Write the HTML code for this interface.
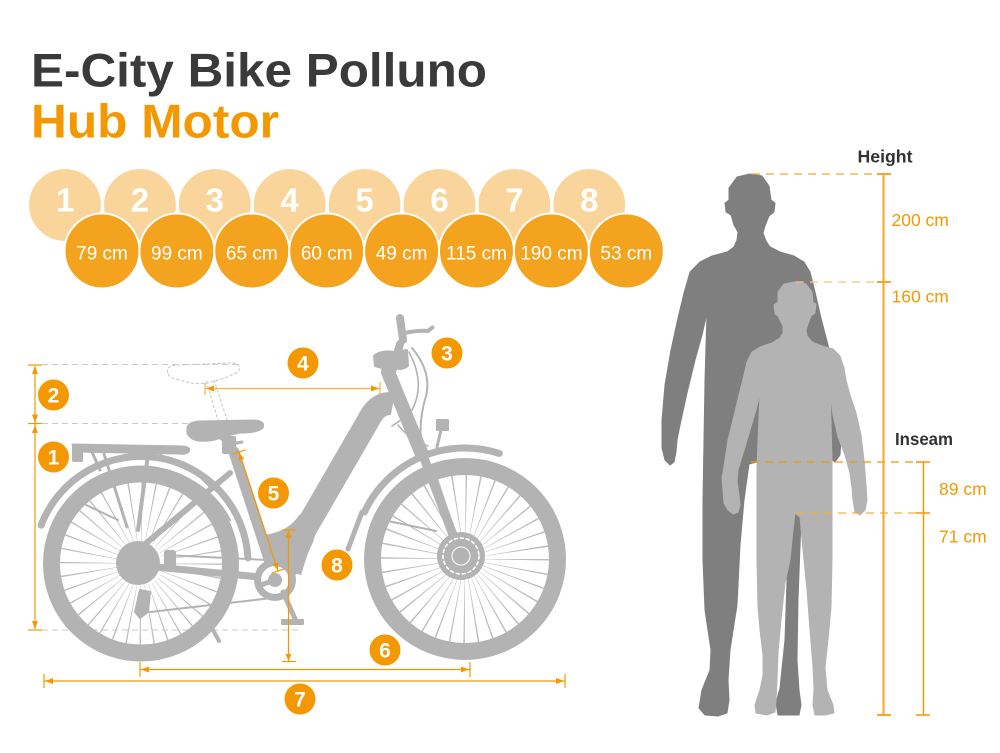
<!DOCTYPE html>
<html><head><meta charset="utf-8"><style>
html,body{margin:0;padding:0;background:#fff;}
svg{display:block;}
text{font-family:"Liberation Sans",Arial,sans-serif;}
</style></head><body>
<svg width="1000" height="753" viewBox="0 0 1000 753" xmlns="http://www.w3.org/2000/svg">
<rect width="1000" height="753" fill="#fff"/>
<!-- Title -->
<text x="31" y="86.7" font-size="47.5" font-weight="bold" fill="#3a3a3a" textLength="456" lengthAdjust="spacingAndGlyphs">E-City Bike Polluno</text>
<text x="31" y="137.3" font-size="47.5" font-weight="bold" fill="#f39800" textLength="248" lengthAdjust="spacingAndGlyphs">Hub Motor</text>

<!-- light circles -->
<g fill="#f9d59b" stroke="#fff" stroke-width="1.2">
<circle cx="65" cy="205" r="36.5"/><circle cx="139.9" cy="205" r="36.5"/><circle cx="214.8" cy="205" r="36.5"/><circle cx="289.7" cy="205" r="36.5"/><circle cx="364.6" cy="205" r="36.5"/><circle cx="439.5" cy="205" r="36.5"/><circle cx="514.4" cy="205" r="36.5"/><circle cx="589.3" cy="205" r="36.5"/>
</g>
<g fill="#fff" font-size="33" font-weight="bold" text-anchor="middle">
<text x="65" y="211.5">1</text><text x="139.9" y="211.5">2</text><text x="214.8" y="211.5">3</text><text x="289.7" y="211.5">4</text><text x="364.6" y="211.5">5</text><text x="439.5" y="211.5">6</text><text x="514.4" y="211.5">7</text><text x="589.3" y="211.5">8</text>
</g>
<!-- dark circles -->
<g fill="#f3a31d" stroke="#fff" stroke-width="2">
<circle cx="102" cy="251" r="37.5"/><circle cx="176.9" cy="251" r="37.5"/><circle cx="251.8" cy="251" r="37.5"/><circle cx="326.7" cy="251" r="37.5"/><circle cx="401.6" cy="251" r="37.5"/><circle cx="476.5" cy="251" r="37.5"/><circle cx="551.4" cy="251" r="37.5"/><circle cx="626.3" cy="251" r="37.5"/>
</g>
<g fill="#fff" font-size="19" text-anchor="middle">
<text x="102" y="259.5">79 cm</text><text x="176.9" y="259.5">99 cm</text><text x="251.8" y="259.5">65 cm</text><text x="326.7" y="259.5">60 cm</text><text x="401.6" y="259.5">49 cm</text><text x="476.5" y="259.5">115 cm</text><text x="551.4" y="259.5">190 cm</text><text x="626.3" y="259.5">53 cm</text>
</g>

<!-- ===== BIKE ===== -->
<g id="bike">
<g stroke="#c9c9c9" stroke-width="1" stroke-dasharray="6 4" fill="none">
<line x1="42" y1="364.5" x2="238" y2="364.5"/>
<line x1="42" y1="423.5" x2="222" y2="423.5"/>
<line x1="42" y1="630" x2="300" y2="630"/>
</g>
<g stroke="#c4c4c4" stroke-width="1" stroke-dasharray="3 2" fill="none">
<path d="M168 373 Q165 365 180 365 L232 363 Q243 364 238 372 Q226 378 212 382 Q196 386 180 380 Q168 378 168 373 Z"/>
<line x1="206" y1="381" x2="219" y2="423"/>
<line x1="214" y1="380" x2="228" y2="423"/>
</g>

<g fill="none" stroke="#b3b3b3">
<circle cx="141" cy="563.5" r="89.5" stroke-width="17"/>
<circle cx="465" cy="559" r="92.5" stroke-width="17"/>
</g>
<circle cx="141" cy="563.5" r="51.5" fill="none" stroke="#bcbcbc" stroke-width="59" stroke-dasharray="0.9 8.088"/>
<circle cx="465" cy="559" r="47" fill="none" stroke="#bcbcbc" stroke-width="74" stroke-dasharray="0.85 7.353"/>

<g fill="#b3b3b3" stroke="#b3b3b3" stroke-linecap="round" stroke-linejoin="round">
<circle cx="138" cy="563" r="22" stroke="none"/>
<path d="M41.1 525.2 A107 107 0 0 1 247.9 557.9" fill="none" stroke-width="7"/>
<path d="M60 520 A96 96 0 0 1 230 520" fill="none" stroke-width="2"/>
<path d="M72 444 L183 446 Q192 447 189 452 Q186 455 178 454 L74 452 Z" stroke-width="1"/>
<rect x="72" y="446" width="11" height="16" rx="2" stroke="none"/>
<line x1="92" y1="452" x2="100" y2="470" stroke-width="3"/>
<line x1="104" y1="454" x2="127" y2="527" stroke-width="3"/>
<line x1="148" y1="455" x2="138" y2="530" stroke-width="4"/>
<line x1="160" y1="455" x2="197" y2="470" stroke-width="2.5"/>
<line x1="118" y1="520" x2="86" y2="505" stroke-width="2"/>
<line x1="230" y1="473" x2="144" y2="545" stroke-width="6"/>
<line x1="210" y1="487" x2="198" y2="475" stroke-width="2"/>
<line x1="145" y1="566" x2="270" y2="578" stroke-width="7"/>
<line x1="165" y1="555" x2="268" y2="560" stroke-width="2"/>
<line x1="150" y1="612" x2="272" y2="598" stroke-width="2"/>
<rect x="164" y="550" width="12" height="20" rx="3" stroke="none"/>
<path d="M140 590 L150 592 L148 612 L140 618 L135 612 Z" stroke-width="2"/>
<line x1="212" y1="628" x2="219" y2="641" stroke-width="4"/>
<line x1="234" y1="452" x2="274" y2="574" stroke-width="11"/>
<rect x="222" y="436" width="14" height="18" rx="2" stroke="none"/>
<path d="M187 430 Q186 422 199 421 L255 420 Q266 421 263 428 Q258 433 240 433 Q226 436 215 440 Q200 443 192 439 Q186 435 187 430 Z" stroke-width="1"/>
<path d="M218 436 Q228 446 242 442" fill="none" stroke-width="3"/>
<path d="M393 404 Q378 401 368 421 L306 528 Q297 547 290 572" fill="none" stroke-width="23" stroke-linecap="butt"/>
<path d="M262 535 Q288 533 300 514 L314 540 L302 566 L287 586 L266 580 Z" stroke="none"/>
<circle cx="275" cy="580" r="21" stroke="none"/>
<circle cx="275" cy="580" r="14" fill="#fff" stroke="none"/>
<circle cx="275" cy="580" r="7" stroke="none"/>
<line x1="275" y1="580" x2="258" y2="586" stroke-width="5"/>
<line x1="283" y1="592" x2="296" y2="621" stroke-width="5"/>
<rect x="281" y="619" width="23" height="6" rx="1" stroke="none"/>
<line x1="388" y1="372" x2="421" y2="452" stroke-width="14"/>
<line x1="421" y1="450" x2="461" y2="556" stroke-width="9"/>
<line x1="392" y1="372" x2="400" y2="344" stroke-width="8"/>
<line x1="400" y1="318" x2="403" y2="340" stroke-width="8"/>
<path d="M404 333 Q420 330 428 331 Q434 326 432 328" fill="none" stroke-width="4"/>
<path d="M374 356 Q380 350 395 352 L407 350 L408 366 Q400 372 394 366 Q384 370 375 366 Z" stroke-width="2"/>
<path d="M412 348 Q432 372 426 396 Q419 418 421 442" fill="none" stroke-width="2"/>
<path d="M409 352 Q426 384 412 410 Q402 420 392 426" fill="none" stroke-width="1.6"/>
<path d="M398 425 Q410 440 428 446" fill="none" stroke-width="1.6"/>
<rect x="436" y="419" width="13" height="12" rx="1" stroke="none"/>
<line x1="441" y1="430" x2="437" y2="447" stroke-width="3"/>
<path d="M364.4 512.1 A111 111 0 0 1 499.3 453.4" fill="none" stroke-width="7"/>
<path d="M362 512 L348 549" fill="none" stroke-width="5"/>
<line x1="388" y1="521" x2="436" y2="531" stroke-width="2"/>
<circle cx="461" cy="556" r="24" stroke="none"/>
<circle cx="461" cy="556" r="18" fill="none" stroke="#fff" stroke-width="1.6" stroke-dasharray="3 3"/>
<circle cx="461" cy="556" r="9" fill="#b3b3b3" stroke="#fff" stroke-width="1"/>
</g>

<g stroke="#f39800" stroke-width="1.2" fill="none">
<line x1="35" y1="366" x2="35" y2="629"/>
<line x1="28" y1="365" x2="42" y2="365"/>
<line x1="28" y1="423.5" x2="42" y2="423.5"/>
<line x1="28" y1="630" x2="42" y2="630"/>
<line x1="278" y1="571" x2="239" y2="452"/>
<line x1="232.4" y1="454.2" x2="245.7" y2="449.8"/>
<line x1="271.4" y1="573.2" x2="284.7" y2="568.8"/>
<line x1="288.5" y1="530" x2="288.5" y2="661.5"/>
<line x1="282" y1="530" x2="296" y2="530"/>
<line x1="282" y1="661.5" x2="296" y2="661.5"/>
<line x1="140" y1="669.5" x2="470" y2="669.5"/>
<line x1="140" y1="662" x2="140" y2="677"/>
<line x1="470" y1="662" x2="470" y2="677"/>
<line x1="44" y1="681" x2="565" y2="681"/>
<line x1="44" y1="674" x2="44" y2="688"/>
<line x1="565" y1="674" x2="565" y2="688"/>
</g>
<g stroke="#f6b24e" stroke-width="1.2" fill="none">
<line x1="205" y1="388.5" x2="380" y2="388.5"/>
<line x1="205" y1="383" x2="205" y2="395"/>
<line x1="380" y1="382" x2="380" y2="395"/>
</g>
<g fill="#f39800">
<polygon points="35,366 32,374 38,374"/>
<polygon points="35,422.5 32,414.5 38,414.5"/>
<polygon points="35,425 32,433 38,433"/>
<polygon points="35,629 32,621 38,621"/>
<polygon points="239.3,453 244.3,458.8 238.6,460.6"/>
<polygon points="277.7,570 278.4,562.4 272.7,564.2"/>
<polygon points="288.5,531 285.5,538 291.5,538"/>
<polygon points="288.5,661 285.5,654 291.5,654"/>
<polygon points="141,669.5 149,666.5 149,672.5"/>
<polygon points="469,669.5 461,666.5 461,672.5"/>
<polygon points="45,681 53,678 53,684"/>
<polygon points="564,681 556,678 556,684"/>
<polygon points="206,388.5 214,385.5 214,391.5"/>
<polygon points="379,388.5 371,385.5 371,391.5"/>
</g>
<g fill="#f39800">
<circle cx="53.5" cy="395" r="15.5"/><circle cx="53.5" cy="457" r="15.5"/><circle cx="303" cy="363" r="15.5"/><circle cx="447" cy="353" r="15.5"/><circle cx="273.5" cy="493" r="15.5"/><circle cx="337" cy="565" r="15.5"/><circle cx="385" cy="650" r="15.5"/><circle cx="300" cy="699" r="15.5"/>
</g>
<g fill="#fff" font-size="21" font-weight="bold" text-anchor="middle">
<text x="53.5" y="402.5">2</text><text x="53.5" y="464.5">1</text><text x="303" y="370.5">4</text><text x="447" y="360.5">3</text><text x="273.5" y="500.5">5</text><text x="337" y="572.5">8</text><text x="385" y="657.5">6</text><text x="300" y="706.5">7</text>
</g>
</g>

<!-- ===== HUMANS ===== -->
<path fill="#7f7f7f" stroke="#7f7f7f" stroke-width="1" stroke-linejoin="round" d="M750 174 L762 176 L769 186 L771 200 L775 203 L774 212 L769 216 L765 226 L763 233 L766 241 L770 247 L780 252 L794 256 L804 262 L810 272 L815 292 L821 318 L828 345 L834 375 L838 410 L841 440 L840 455 L835 462 L830 458 L826 445 L815 450 L805 470 L801 520 L798 600 L797 660 L799 690 L801 705 L799 715 L778 715 L776 703 L780 688 L785 640 L787 580 L785 513 L757 462 L749 464 L744 500 L740 545 L737 605 L730 650 L728 680 L729 700 L727 713 L718 716 L705 715 L699 708 L702 690 L710 670 L711 650 L705 610 L703 560 L703 500 L704 440 L705 380 L707 313 L702 335 L695 360 L687 393 L680 425 L677 440 L676 452 L674 462 L670 465 L665 460 L662 448 L662 420 L665 385 L671 350 L678 318 L684 293 L690 272 L700 262 L712 256 L727 252 L734 247 L737 240 L738 232 L734 225 L731 215 L726 212 L725 203 L729 200 L729 188 L737 177 Z"/>
<path fill="#b3b3b3" stroke="#b3b3b3" stroke-width="1" stroke-linejoin="round" d="M795 282 L806 284 L812 292 L813 302 L816 304 L815 313 L811 316 L808 324 L806 330 L807 336 L812 342 L822 346 L833 349 L840 356 L844 368 L846 380 L850 395 L856 413 L861 435 L864 460 L866 485 L867 500 L865 510 L860 515 L855 512 L853 500 L852 488 L850 473 L845 455 L838 437 L833 415 L830 393 L831 420 L832 460 L832 507 L832 560 L831 607 L828 640 L825 667 L827 690 L833 705 L834 713 L825 715 L815 715 L813 705 L814 690 L813 667 L810 630 L807 590 L803 550 L800 517 L795 513 L793 530 L790 560 L785 583 L781 620 L778 653 L777 680 L776 700 L775 712 L767 715 L756 713 L755 705 L760 690 L763 675 L763 655 L760 630 L758 607 L757 560 L757 507 L757 470 L758 440 L760 393 L756 410 L750 430 L745 447 L738 470 L737 482 L739 495 L740 505 L738 512 L733 514 L728 510 L724 503 L723 490 L722 478 L725 460 L728 440 L733 420 L739 395 L744 375 L747 362 L752 352 L760 347 L772 343 L780 338 L783 333 L783 326 L780 320 L778 316 L775 314 L774 305 L778 302 L778 292 L784 284 Z"/>

<!-- height scale -->
<g fill="none" stroke-width="1.3" stroke-dasharray="8 6">
<line x1="752" y1="174" x2="877" y2="174" stroke="#f5a623"/>
<line x1="796" y1="282" x2="877" y2="282" stroke="#f9c27a"/>
<line x1="751" y1="462" x2="916" y2="462" stroke="#f39800"/>
<line x1="796" y1="513" x2="916" y2="513" stroke="#f6ad3e"/>
</g>
<g stroke="#f5a623" stroke-width="2" fill="none">
<line x1="883.5" y1="174" x2="883.5" y2="715"/>
<line x1="877" y1="174" x2="891" y2="174"/>
<line x1="877" y1="282" x2="891" y2="282"/>
<line x1="877" y1="715" x2="891" y2="715"/>
</g>
<g stroke="#f39800" stroke-width="1.5" fill="none">
<line x1="923.5" y1="462" x2="923.5" y2="715"/>
<line x1="916" y1="462" x2="930" y2="462"/>
<line x1="916" y1="513" x2="930" y2="513"/>
<line x1="916" y1="715" x2="930" y2="715"/>
</g>
<text x="857.5" y="162.5" font-size="17.5" font-weight="bold" fill="#333" textLength="55" lengthAdjust="spacingAndGlyphs">Height</text>
<text x="895" y="445" font-size="17.5" font-weight="bold" fill="#333" textLength="58" lengthAdjust="spacingAndGlyphs">Inseam</text>
<g fill="#f39800" font-size="17.5">
<text x="891.5" y="226">200 cm</text>
<text x="891.5" y="302.5">160 cm</text>
<text x="939" y="495">89 cm</text>
<text x="939" y="542.5">71 cm</text>
</g>
</svg>
</body></html>
